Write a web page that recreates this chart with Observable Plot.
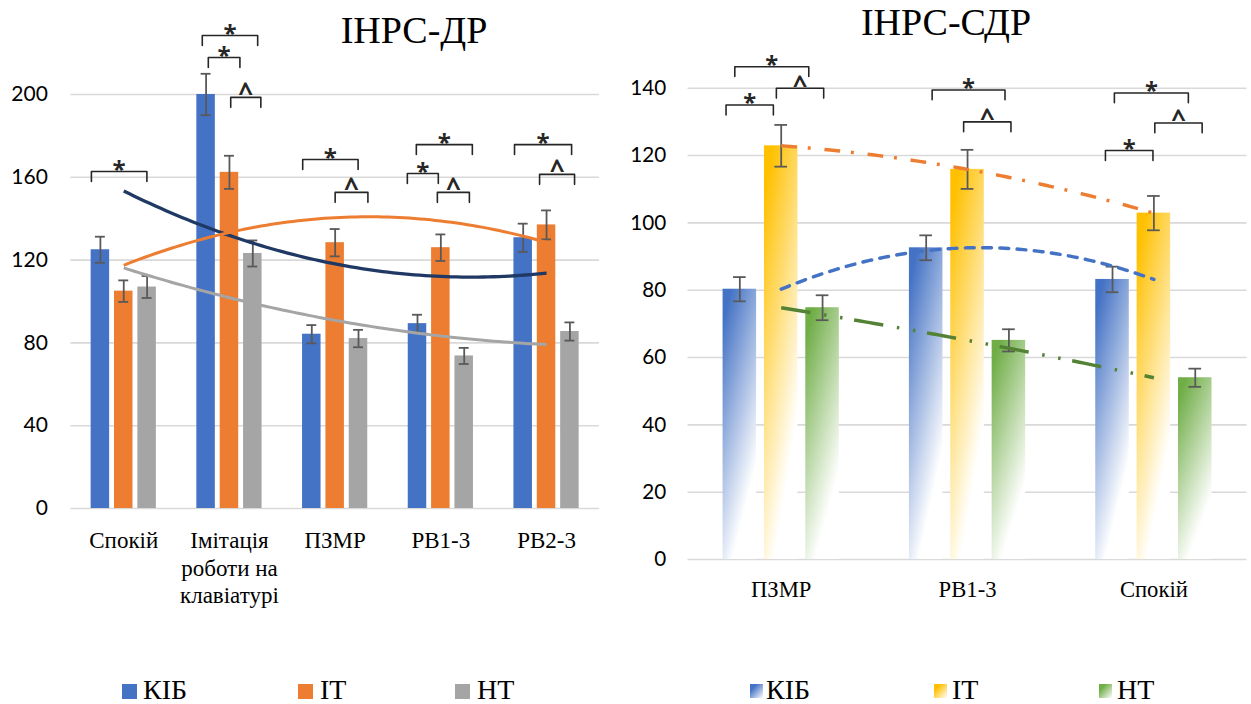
<!DOCTYPE html>
<html><head><meta charset="utf-8">
<script src="https://cdn.jsdelivr.net/npm/d3@7"></script>
<script src="https://cdn.jsdelivr.net/npm/@observablehq/plot@0.6"></script>
<style>
html,body{margin:0;padding:0;background:#fff;}
body{width:1251px;height:704px;position:relative;overflow:hidden;}
.chart{position:absolute;top:0;}
.chart svg{overflow:visible;}
.title{position:absolute;font-family:'Times New Roman','Liberation Serif',serif;font-size:38px;color:#000;white-space:nowrap;transform:translateX(-50%);line-height:1;}
.sw{position:absolute;}
.lt{position:absolute;font-family:'Times New Roman','Liberation Serif',serif;font-size:28px;line-height:1;color:#000;white-space:nowrap;}
</style></head><body>
<div id="left" class="chart" style="left:0"></div>
<div id="right" class="chart" style="left:620px"></div>
<div class="title" style="left:414px;top:11px;">ІНРС-ДР</div>
<div class="title" style="left:946px;top:3px;">ІНРС-СДР</div>
<div id="legend"></div>
<script>
// ---------- Left chart data (ІНРС-ДР) ----------
const catsL = ["Спокій", "Імітація\nроботи на\nклавіатурі", "ПЗМР", "РВ1-3", "РВ2-3"];
const kibL = [125, 200, 84.2, 89.3, 130.8];
const itL  = [105, 162.4, 128.4, 126, 137];
const ntL  = [107, 123.2, 82.1, 73.7, 85.5];
const kibErrL = [6.3, 10, 4.4, 4.3, 6.8];
const itErrL  = [5.2, 8, 6.6, 6.4, 7];
const ntErrL  = [5.3, 6.3, 4.2, 3.9, 4.4];
const ticksL = [0, 40, 80, 120, 160, 200];
// significance brackets: category, bracket ends (within group), level, symbol
const sigL = [
  {cat: 0, a: -0.306, b: 0.219, y: 162.8, s: "*"},
  {cat: 1, a: -0.257, b: 0.267, y: 228.5, s: "*"},
  {cat: 1, a: -0.200, b: 0.099, y: 217.9, s: "*"},
  {cat: 1, a: 0.012,  b: 0.297, y: 198.6, s: "^"},
  {cat: 2, a: -0.307, b: 0.217, y: 168.6, s: "*"},
  {cat: 2, a: 0.000,  b: 0.310, y: 152.7, s: "^"},
  {cat: 3, a: -0.232, b: 0.298, y: 175.8, s: "*"},
  {cat: 3, a: -0.317, b: -0.024, y: 161.8, s: "*"},
  {cat: 3, a: -0.033, b: 0.270, y: 152.7, s: "^"},
  {cat: 4, a: -0.303, b: 0.237, y: 175.8, s: "*"},
  {cat: 4, a: -0.066, b: 0.265, y: 161.4, s: "^"}
];

// ---------- Right chart data (ІНРС-СДР) ----------
const catsR = ["ПЗМР", "РВ1-3", "Спокій"];
const kibR = [80.3, 92.6, 83.2];
const itR  = [122.9, 115.9, 102.9];
const ntR  = [74.8, 65.1, 54];
const kibErrR = [3.6, 3.7, 3.8];
const itErrR  = [6.2, 5.8, 5.1];
const ntErrR  = [3.7, 3.3, 2.7];
const ticksR = [0, 20, 40, 60, 80, 100, 120, 140];
const sigR = [
  {cat: 0, a: -0.249, b: 0.148, y: 146.4, s: "*"},
  {cat: 0, a: -0.296, b: -0.042, y: 135.0, s: "*"},
  {cat: 0, a: -0.026, b: 0.228, y: 140.0, s: "^"},
  {cat: 1, a: -0.190, b: 0.201, y: 139.5, s: "*"},
  {cat: 1, a: -0.021, b: 0.233, y: 130.0, s: "^"},
  {cat: 2, a: -0.212, b: 0.185, y: 138.6, s: "*"},
  {cat: 2, a: 0.005,  b: 0.259, y: 129.7, s: "^"},
  {cat: 2, a: -0.260, b: -0.005, y: 121.5, s: "*"}
];

const seriesNames = ["КІБ", "ІТ", "НТ"];
const SERIF = "Times New Roman";

// ---------- helpers ----------
function solve3(M, T) {
  const A = M.map((r, i) => [...r, T[i]]);
  for (let c = 0; c < 3; c++) {
    let p = c;
    for (let r = c + 1; r < 3; r++) if (Math.abs(A[r][c]) > Math.abs(A[p][c])) p = r;
    [A[c], A[p]] = [A[p], A[c]];
    for (let r = 0; r < 3; r++) {
      if (r === c) continue;
      const f = A[r][c] / A[c][c];
      for (let k = c; k < 4; k++) A[r][k] -= f * A[c][k];
    }
  }
  return A.map((r, i) => r[3] / r[i]);
}
function quadFit(ys) {
  const S = [0, 0, 0, 0, 0], T = [0, 0, 0];
  ys.forEach((y, x) => {
    for (let k = 0; k < 5; k++) S[k] += x ** k;
    for (let k = 0; k < 3; k++) T[k] += y * x ** k;
  });
  const c = solve3([[S[0], S[1], S[2]], [S[1], S[2], S[3]], [S[2], S[3], S[4]]], T);
  return x => c[0] + c[1] * x + c[2] * x * x;
}

function makeChart(o) {
  const n = o.cats.length;
  const marks = [
    Plot.gridY(o.ticks, {stroke: "#d9d9d9", strokeOpacity: 1, strokeWidth: 1.6}),
    Plot.axisY(o.ticks, {tickSize: 0, tickPadding: o.yPad, fontFamily: "Lato", fontSize: 21, fill: "#000", label: null}),
    Plot.axisX(d3.range(n), {tickSize: 0, tickPadding: o.xPad, tickFormat: i => o.cats[i],
      fontFamily: SERIF, fontSize: 23, lineHeight: 1.2, fill: "#000", label: null})
  ];
  const allRows = [];
  o.series.forEach((vals, s) => {
    const rows = vals.map((v, i) => ({i, s, x: i + (s - 1) * o.off, v, e: o.errs[s][i]}));
    allRows.push(...rows);
    marks.push(Plot.rect(rows, {x1: d => d.x - o.bw / 2, x2: d => d.x + o.bw / 2, y1: 0, y2: "v", fill: o.fills[s]}));
  });
  // error bars
  marks.push(
    Plot.ruleX(allRows, {x: "x", y1: d => d.v - d.e, y2: d => d.v + d.e, stroke: "#595959", strokeWidth: 1.8}),
    Plot.ruleY(allRows, {y: d => d.v + d.e, x1: d => d.x - o.cap, x2: d => d.x + o.cap, stroke: "#595959", strokeWidth: 1.8}),
    Plot.ruleY(allRows, {y: d => d.v - d.e, x1: d => d.x - o.cap, x2: d => d.x + o.cap, stroke: "#595959", strokeWidth: 1.8})
  );
  // polynomial (order 2) trend lines fitted to each series
  o.series.forEach((vals, s) => {
    const f = quadFit(vals);
    const pts = d3.range(81).map(j => { const x = j * (n - 1) / 80; return {x, y: f(x)}; });
    marks.push(Plot.line(pts, {x: "x", y: "y", stroke: o.trend[s].stroke, strokeWidth: o.trend[s].width,
      strokeDasharray: o.trend[s].dash, strokeLinecap: o.trend[s].cap || "butt"}));
  });
  // significance brackets
  const bpts = [];
  o.sig.forEach((d, k) => {
    bpts.push({k, x: d.cat + d.a, y: d.y - o.tick}, {k, x: d.cat + d.a, y: d.y},
              {k, x: d.cat + d.b, y: d.y}, {k, x: d.cat + d.b, y: d.y - o.tick});
  });
  marks.push(Plot.line(bpts, {x: "x", y: "y", z: "k", stroke: "#262626", strokeWidth: 1.6, curve: "linear"}));
  marks.push(Plot.text(o.sig.filter(d => d.s === "*"), {x: d => d.cat + (d.a + d.b) / 2, y: "y", text: "s",
    fontSize: 24, fontWeight: "bold", fontFamily: "Open Sans", fill: "#262626", dy: -1.5}));
  marks.push(Plot.text(o.sig.filter(d => d.s === "^"), {x: d => d.cat + (d.a + d.b) / 2, y: "y", text: "s",
    fontSize: 26, fontWeight: "bold", fontFamily: "Open Sans", fill: "#262626", dy: -4}));

  return Plot.plot({
    width: o.width, height: o.height,
    marginLeft: o.ml, marginRight: o.mr, marginTop: o.mt, marginBottom: o.mb,
    x: {type: "linear", domain: [-0.5, n - 0.5], label: null},
    y: {domain: [0, o.ymax], label: null},
    style: {background: "transparent", color: "#000", overflow: "visible"},
    marks
  });
}

// ---------- left ----------
const svgL = makeChart({
  cats: catsL, series: [kibL, itL, ntL], errs: [kibErrL, itErrL, ntErrL],
  fills: ["#4472C4", "#ED7D31", "#A5A5A5"],
  trend: [{stroke: "#1F3864", width: 3.3}, {stroke: "#ED7D31", width: 3}, {stroke: "#A5A5A5", width: 3}],
  sig: sigL, ticks: ticksL, ymax: 200,
  width: 620, height: 620, ml: 70.4, mr: 21.1, mt: 94, mb: 112,
  off: 0.221, bw: 0.175, cap: 0.047, tick: 4.8, yPad: 23, xPad: 20
});
document.getElementById("left").appendChild(svgL);

// ---------- right ----------
const svgR = makeChart({
  cats: catsR, series: [kibR, itR, ntR], errs: [kibErrR, itErrR, ntErrR],
  fills: ["url(#gB)", "url(#gY)", "url(#gG)"],
  trend: [{stroke: "#4472C4", width: 3.5, dash: "9,8.5", cap: "round"},
          {stroke: "#ED7D31", width: 3.5, dash: "16,11,3,14"},
          {stroke: "#548235", width: 3.5, dash: "30,14,2.5,14,2.5,12"}],
  sig: sigR, ticks: ticksR, ymax: 140,
  width: 640, height: 620, ml: 68.5, mr: 4.5, mt: 89, mb: 53,
  off: 0.222, bw: 0.18, cap: 0.034, tick: 2.93, yPad: 22, xPad: 18
});
const defs = d3.select(svgR).insert("defs", ":first-child");
[["gB", "#4472C4"], ["gY", "#FFC000"], ["gG", "#70AD47"]].forEach(([id, c]) => {
  const g = defs.append("linearGradient").attr("id", id)
    .attr("x1", 0).attr("y1", 0).attr("x2", 0.5).attr("y2", 1);
  g.append("stop").attr("offset", 0).attr("stop-color", c);
  g.append("stop").attr("offset", 0.1).attr("stop-color", c);
  g.append("stop").attr("offset", 0.92).attr("stop-color", "#fff");
});
document.getElementById("right").appendChild(svgR);

// ---------- legends ----------
const legItems = [
  {x: 122, tx: 143, w: 15, h: 15, bg: "#4472C4"},
  {x: 298, tx: 320, w: 15, h: 15, bg: "#ED7D31"},
  {x: 455, tx: 477, w: 15, h: 15, bg: "#A5A5A5"},
  {x: 750, tx: 766, w: 13, h: 14, bg: "linear-gradient(to bottom right, #4472C4 25%, #fff 100%)"},
  {x: 934, tx: 952, w: 13, h: 14, bg: "linear-gradient(to bottom right, #FFC000 25%, #fff 100%)"},
  {x: 1099, tx: 1117, w: 13, h: 14, bg: "linear-gradient(to bottom right, #70AD47 25%, #fff 100%)"}
];
const leg = document.getElementById("legend");
legItems.forEach((d, i) => {
  const sw = document.createElement("div");
  sw.className = "sw";
  Object.assign(sw.style, {left: d.x + "px", top: "684px", width: d.w + "px", height: d.h + "px", background: d.bg});
  leg.appendChild(sw);
  const t = document.createElement("div");
  t.className = "lt";
  t.textContent = seriesNames[i % 3];
  Object.assign(t.style, {left: d.tx + "px", top: "676px"});
  leg.appendChild(t);
});
</script>
</body></html>
